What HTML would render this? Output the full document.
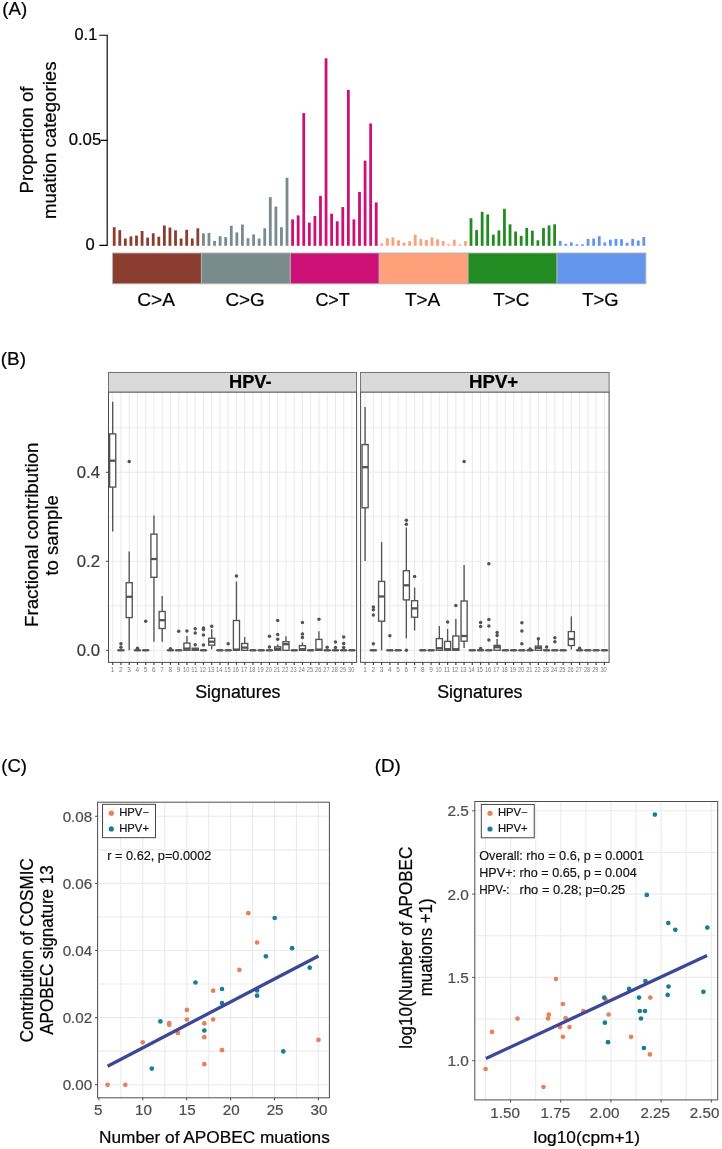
<!DOCTYPE html>
<html><head><meta charset="utf-8"><title>Figure</title>
<style>
html,body{margin:0;padding:0;background:#fff;}
svg{display:block;will-change:transform;filter:blur(0.3px);font-family:'Liberation Sans', sans-serif;}
</style></head>
<body>
<svg width="722" height="1149" viewBox="0 0 722 1149" font-family="'Liberation Sans', sans-serif">
<rect width="722" height="1149" fill="#fff"/>
<text x="2.30" y="15.20" font-size="18.5" text-anchor="start" fill="#000" textLength="24.9" lengthAdjust="spacingAndGlyphs" stroke="#000" stroke-width="0.22">(A)</text>
<rect x="112.80" y="227.20" width="2.8" height="18.60" fill="#8B3E2F"/>
<rect x="118.38" y="230.10" width="2.8" height="15.70" fill="#8B3E2F"/>
<rect x="123.95" y="238.50" width="2.8" height="7.30" fill="#8B3E2F"/>
<rect x="129.53" y="236.40" width="2.8" height="9.40" fill="#8B3E2F"/>
<rect x="135.10" y="235.60" width="2.8" height="10.20" fill="#8B3E2F"/>
<rect x="140.68" y="231.00" width="2.8" height="14.80" fill="#8B3E2F"/>
<rect x="146.25" y="237.60" width="2.8" height="8.20" fill="#8B3E2F"/>
<rect x="151.82" y="233.30" width="2.8" height="12.50" fill="#8B3E2F"/>
<rect x="157.40" y="236.70" width="2.8" height="9.10" fill="#8B3E2F"/>
<rect x="162.97" y="225.50" width="2.8" height="20.30" fill="#8B3E2F"/>
<rect x="168.55" y="227.50" width="2.8" height="18.30" fill="#8B3E2F"/>
<rect x="174.12" y="230.30" width="2.8" height="15.50" fill="#8B3E2F"/>
<rect x="179.70" y="238.50" width="2.8" height="7.30" fill="#8B3E2F"/>
<rect x="185.28" y="229.80" width="2.8" height="16.00" fill="#8B3E2F"/>
<rect x="190.85" y="238.50" width="2.8" height="7.30" fill="#8B3E2F"/>
<rect x="196.43" y="228.30" width="2.8" height="17.50" fill="#8B3E2F"/>
<rect x="202.00" y="233.30" width="2.8" height="12.50" fill="#7A8B8B"/>
<rect x="207.57" y="232.90" width="2.8" height="12.90" fill="#7A8B8B"/>
<rect x="213.15" y="240.90" width="2.8" height="4.90" fill="#7A8B8B"/>
<rect x="218.72" y="236.20" width="2.8" height="9.60" fill="#7A8B8B"/>
<rect x="224.30" y="237.10" width="2.8" height="8.70" fill="#7A8B8B"/>
<rect x="229.88" y="225.70" width="2.8" height="20.10" fill="#7A8B8B"/>
<rect x="235.45" y="232.40" width="2.8" height="13.40" fill="#7A8B8B"/>
<rect x="241.02" y="224.50" width="2.8" height="21.30" fill="#7A8B8B"/>
<rect x="246.60" y="238.20" width="2.8" height="7.60" fill="#7A8B8B"/>
<rect x="252.18" y="234.40" width="2.8" height="11.40" fill="#7A8B8B"/>
<rect x="257.75" y="238.50" width="2.8" height="7.30" fill="#7A8B8B"/>
<rect x="263.32" y="228.30" width="2.8" height="17.50" fill="#7A8B8B"/>
<rect x="268.90" y="197.10" width="2.8" height="48.70" fill="#7A8B8B"/>
<rect x="274.48" y="206.60" width="2.8" height="39.20" fill="#7A8B8B"/>
<rect x="280.05" y="227.20" width="2.8" height="18.60" fill="#7A8B8B"/>
<rect x="285.62" y="177.70" width="2.8" height="68.10" fill="#7A8B8B"/>
<rect x="291.20" y="219.40" width="2.8" height="26.40" fill="#CD1076"/>
<rect x="296.77" y="215.40" width="2.8" height="30.40" fill="#CD1076"/>
<rect x="302.35" y="113.10" width="2.8" height="132.70" fill="#CD1076"/>
<rect x="307.93" y="222.60" width="2.8" height="23.20" fill="#CD1076"/>
<rect x="313.50" y="216.00" width="2.8" height="29.80" fill="#CD1076"/>
<rect x="319.07" y="195.80" width="2.8" height="50.00" fill="#CD1076"/>
<rect x="324.65" y="58.30" width="2.8" height="187.50" fill="#CD1076"/>
<rect x="330.23" y="213.70" width="2.8" height="32.10" fill="#CD1076"/>
<rect x="335.80" y="221.30" width="2.8" height="24.50" fill="#CD1076"/>
<rect x="341.38" y="207.05" width="2.8" height="38.75" fill="#CD1076"/>
<rect x="346.95" y="89.90" width="2.8" height="155.90" fill="#CD1076"/>
<rect x="352.52" y="219.40" width="2.8" height="26.40" fill="#CD1076"/>
<rect x="358.10" y="191.90" width="2.8" height="53.90" fill="#CD1076"/>
<rect x="363.68" y="160.60" width="2.8" height="85.20" fill="#CD1076"/>
<rect x="369.25" y="123.50" width="2.8" height="122.30" fill="#CD1076"/>
<rect x="374.83" y="202.40" width="2.8" height="43.40" fill="#CD1076"/>
<rect x="380.40" y="243.50" width="2.8" height="2.30" fill="#FFA07A"/>
<rect x="385.98" y="238.20" width="2.8" height="7.60" fill="#FFA07A"/>
<rect x="391.55" y="237.40" width="2.8" height="8.40" fill="#FFA07A"/>
<rect x="397.12" y="240.30" width="2.8" height="5.50" fill="#FFA07A"/>
<rect x="402.70" y="242.60" width="2.8" height="3.20" fill="#FFA07A"/>
<rect x="408.28" y="241.20" width="2.8" height="4.60" fill="#FFA07A"/>
<rect x="413.85" y="234.70" width="2.8" height="11.10" fill="#FFA07A"/>
<rect x="419.43" y="238.90" width="2.8" height="6.90" fill="#FFA07A"/>
<rect x="425.00" y="240.00" width="2.8" height="5.80" fill="#FFA07A"/>
<rect x="430.58" y="237.40" width="2.8" height="8.40" fill="#FFA07A"/>
<rect x="436.15" y="239.30" width="2.8" height="6.50" fill="#FFA07A"/>
<rect x="441.73" y="241.10" width="2.8" height="4.70" fill="#FFA07A"/>
<rect x="447.30" y="244.30" width="2.8" height="1.50" fill="#FFA07A"/>
<rect x="452.88" y="239.70" width="2.8" height="6.10" fill="#FFA07A"/>
<rect x="458.45" y="244.60" width="2.8" height="1.20" fill="#FFA07A"/>
<rect x="464.03" y="241.10" width="2.8" height="4.70" fill="#FFA07A"/>
<rect x="469.60" y="218.20" width="2.8" height="27.60" fill="#228B22"/>
<rect x="475.18" y="230.10" width="2.8" height="15.70" fill="#228B22"/>
<rect x="480.75" y="211.80" width="2.8" height="34.00" fill="#228B22"/>
<rect x="486.33" y="214.40" width="2.8" height="31.40" fill="#228B22"/>
<rect x="491.90" y="234.70" width="2.8" height="11.10" fill="#228B22"/>
<rect x="497.48" y="230.40" width="2.8" height="15.40" fill="#228B22"/>
<rect x="503.05" y="208.80" width="2.8" height="37.00" fill="#228B22"/>
<rect x="508.62" y="224.30" width="2.8" height="21.50" fill="#228B22"/>
<rect x="514.20" y="231.50" width="2.8" height="14.30" fill="#228B22"/>
<rect x="519.77" y="235.80" width="2.8" height="10.00" fill="#228B22"/>
<rect x="525.35" y="227.80" width="2.8" height="18.00" fill="#228B22"/>
<rect x="530.92" y="230.70" width="2.8" height="15.10" fill="#228B22"/>
<rect x="536.50" y="240.30" width="2.8" height="5.50" fill="#228B22"/>
<rect x="542.08" y="228.10" width="2.8" height="17.70" fill="#228B22"/>
<rect x="547.65" y="225.40" width="2.8" height="20.40" fill="#228B22"/>
<rect x="553.23" y="224.30" width="2.8" height="21.50" fill="#228B22"/>
<rect x="558.80" y="240.90" width="2.8" height="4.90" fill="#6495ED"/>
<rect x="564.38" y="244.00" width="2.8" height="1.80" fill="#6495ED"/>
<rect x="569.95" y="242.40" width="2.8" height="3.40" fill="#6495ED"/>
<rect x="575.52" y="244.30" width="2.8" height="1.50" fill="#6495ED"/>
<rect x="581.10" y="244.30" width="2.8" height="1.50" fill="#6495ED"/>
<rect x="586.67" y="238.90" width="2.8" height="6.90" fill="#6495ED"/>
<rect x="592.25" y="238.50" width="2.8" height="7.30" fill="#6495ED"/>
<rect x="597.83" y="236.20" width="2.8" height="9.60" fill="#6495ED"/>
<rect x="603.40" y="242.40" width="2.8" height="3.40" fill="#6495ED"/>
<rect x="608.98" y="239.70" width="2.8" height="6.10" fill="#6495ED"/>
<rect x="614.55" y="238.90" width="2.8" height="6.90" fill="#6495ED"/>
<rect x="620.12" y="239.20" width="2.8" height="6.60" fill="#6495ED"/>
<rect x="625.70" y="242.80" width="2.8" height="3.00" fill="#6495ED"/>
<rect x="631.27" y="238.90" width="2.8" height="6.90" fill="#6495ED"/>
<rect x="636.85" y="240.50" width="2.8" height="5.30" fill="#6495ED"/>
<rect x="642.42" y="237.00" width="2.8" height="8.80" fill="#6495ED"/>
<path d="M99.3 35.2H107.2V245.4H99.3M107.2 140.4H100.8" fill="none" stroke="#000" stroke-width="1.15"/>
<text x="97.20" y="39.70" font-size="16.3" text-anchor="end" fill="#000" stroke="#000" stroke-width="0.22">0.1</text>
<text x="101.30" y="144.90" font-size="16.8" text-anchor="end" fill="#000" stroke="#000" stroke-width="0.22">0.05</text>
<text x="94.80" y="250.40" font-size="16.5" text-anchor="end" fill="#000" stroke="#000" stroke-width="0.22">0</text>
<text x="32.90" y="140.00" font-size="18.7" text-anchor="middle" fill="#000" textLength="107.0" lengthAdjust="spacingAndGlyphs" transform="rotate(-90 32.90 140.00)" stroke="#000" stroke-width="0.22">Proportion of</text>
<text x="55.60" y="140.30" font-size="18.7" text-anchor="middle" fill="#000" textLength="157.6" lengthAdjust="spacingAndGlyphs" transform="rotate(-90 55.60 140.30)" stroke="#000" stroke-width="0.22">muation categories</text>
<rect x="112.50" y="253" width="88.90" height="30.8" fill="#8B3E2F" stroke="#b4b4b4" stroke-width="0.9"/>
<rect x="201.40" y="253" width="88.90" height="30.8" fill="#7A8B8B" stroke="#b4b4b4" stroke-width="0.9"/>
<rect x="290.30" y="253" width="88.90" height="30.8" fill="#CD1076" stroke="#b4b4b4" stroke-width="0.9"/>
<rect x="379.20" y="253" width="88.90" height="30.8" fill="#FFA07A" stroke="#b4b4b4" stroke-width="0.9"/>
<rect x="468.10" y="253" width="88.90" height="30.8" fill="#228B22" stroke="#b4b4b4" stroke-width="0.9"/>
<rect x="557.00" y="253" width="88.90" height="30.8" fill="#6495ED" stroke="#b4b4b4" stroke-width="0.9"/>
<text x="137.20" y="305.60" font-size="18.5" text-anchor="start" fill="#000" textLength="37.7" lengthAdjust="spacingAndGlyphs" stroke="#000" stroke-width="0.22">C&gt;A</text>
<text x="225.50" y="305.60" font-size="18.5" text-anchor="start" fill="#000" textLength="39.2" lengthAdjust="spacingAndGlyphs" stroke="#000" stroke-width="0.22">C&gt;G</text>
<text x="315.40" y="305.60" font-size="18.5" text-anchor="start" fill="#000" textLength="34.3" lengthAdjust="spacingAndGlyphs" stroke="#000" stroke-width="0.22">C&gt;T</text>
<text x="404.90" y="305.60" font-size="18.5" text-anchor="start" fill="#000" textLength="35.4" lengthAdjust="spacingAndGlyphs" stroke="#000" stroke-width="0.22">T&gt;A</text>
<text x="493.20" y="305.60" font-size="18.5" text-anchor="start" fill="#000" textLength="36.1" lengthAdjust="spacingAndGlyphs" stroke="#000" stroke-width="0.22">T&gt;C</text>
<text x="582.20" y="305.60" font-size="18.5" text-anchor="start" fill="#000" textLength="36.3" lengthAdjust="spacingAndGlyphs" stroke="#000" stroke-width="0.22">T&gt;G</text>
<text x="0.80" y="365.20" font-size="18.5" text-anchor="start" fill="#000" textLength="25.2" lengthAdjust="spacingAndGlyphs" stroke="#000" stroke-width="0.22">(B)</text>
<rect x="108.5" y="392.0" width="248.10" height="270.40" fill="#fff"/>
<line x1="108.5" x2="356.6" y1="650.30" y2="650.30" stroke="#ebebeb" stroke-width="1.1"/>
<line x1="108.5" x2="356.6" y1="605.80" y2="605.80" stroke="#ebebeb" stroke-width="0.9"/>
<line x1="108.5" x2="356.6" y1="561.30" y2="561.30" stroke="#ebebeb" stroke-width="1.1"/>
<line x1="108.5" x2="356.6" y1="516.80" y2="516.80" stroke="#ebebeb" stroke-width="0.9"/>
<line x1="108.5" x2="356.6" y1="472.30" y2="472.30" stroke="#ebebeb" stroke-width="1.1"/>
<line x1="108.5" x2="356.6" y1="427.80" y2="427.80" stroke="#ebebeb" stroke-width="0.9"/>
<line x1="112.70" x2="112.70" y1="392.0" y2="662.4" stroke="#ebebeb" stroke-width="1.1"/>
<line x1="120.95" x2="120.95" y1="392.0" y2="662.4" stroke="#ebebeb" stroke-width="1.1"/>
<line x1="129.20" x2="129.20" y1="392.0" y2="662.4" stroke="#ebebeb" stroke-width="1.1"/>
<line x1="137.45" x2="137.45" y1="392.0" y2="662.4" stroke="#ebebeb" stroke-width="1.1"/>
<line x1="145.70" x2="145.70" y1="392.0" y2="662.4" stroke="#ebebeb" stroke-width="1.1"/>
<line x1="153.95" x2="153.95" y1="392.0" y2="662.4" stroke="#ebebeb" stroke-width="1.1"/>
<line x1="162.20" x2="162.20" y1="392.0" y2="662.4" stroke="#ebebeb" stroke-width="1.1"/>
<line x1="170.45" x2="170.45" y1="392.0" y2="662.4" stroke="#ebebeb" stroke-width="1.1"/>
<line x1="178.70" x2="178.70" y1="392.0" y2="662.4" stroke="#ebebeb" stroke-width="1.1"/>
<line x1="186.95" x2="186.95" y1="392.0" y2="662.4" stroke="#ebebeb" stroke-width="1.1"/>
<line x1="195.20" x2="195.20" y1="392.0" y2="662.4" stroke="#ebebeb" stroke-width="1.1"/>
<line x1="203.45" x2="203.45" y1="392.0" y2="662.4" stroke="#ebebeb" stroke-width="1.1"/>
<line x1="211.70" x2="211.70" y1="392.0" y2="662.4" stroke="#ebebeb" stroke-width="1.1"/>
<line x1="219.95" x2="219.95" y1="392.0" y2="662.4" stroke="#ebebeb" stroke-width="1.1"/>
<line x1="228.20" x2="228.20" y1="392.0" y2="662.4" stroke="#ebebeb" stroke-width="1.1"/>
<line x1="236.45" x2="236.45" y1="392.0" y2="662.4" stroke="#ebebeb" stroke-width="1.1"/>
<line x1="244.70" x2="244.70" y1="392.0" y2="662.4" stroke="#ebebeb" stroke-width="1.1"/>
<line x1="252.95" x2="252.95" y1="392.0" y2="662.4" stroke="#ebebeb" stroke-width="1.1"/>
<line x1="261.20" x2="261.20" y1="392.0" y2="662.4" stroke="#ebebeb" stroke-width="1.1"/>
<line x1="269.45" x2="269.45" y1="392.0" y2="662.4" stroke="#ebebeb" stroke-width="1.1"/>
<line x1="277.70" x2="277.70" y1="392.0" y2="662.4" stroke="#ebebeb" stroke-width="1.1"/>
<line x1="285.95" x2="285.95" y1="392.0" y2="662.4" stroke="#ebebeb" stroke-width="1.1"/>
<line x1="294.20" x2="294.20" y1="392.0" y2="662.4" stroke="#ebebeb" stroke-width="1.1"/>
<line x1="302.45" x2="302.45" y1="392.0" y2="662.4" stroke="#ebebeb" stroke-width="1.1"/>
<line x1="310.70" x2="310.70" y1="392.0" y2="662.4" stroke="#ebebeb" stroke-width="1.1"/>
<line x1="318.95" x2="318.95" y1="392.0" y2="662.4" stroke="#ebebeb" stroke-width="1.1"/>
<line x1="327.20" x2="327.20" y1="392.0" y2="662.4" stroke="#ebebeb" stroke-width="1.1"/>
<line x1="335.45" x2="335.45" y1="392.0" y2="662.4" stroke="#ebebeb" stroke-width="1.1"/>
<line x1="343.70" x2="343.70" y1="392.0" y2="662.4" stroke="#ebebeb" stroke-width="1.1"/>
<line x1="351.95" x2="351.95" y1="392.0" y2="662.4" stroke="#ebebeb" stroke-width="1.1"/>
<line x1="112.70" x2="112.70" y1="401.70" y2="433.90" stroke="#535353" stroke-width="1.35"/>
<line x1="112.70" x2="112.70" y1="487.10" y2="531.50" stroke="#535353" stroke-width="1.35"/>
<rect x="109.65" y="433.90" width="6.10" height="53.20" fill="#fff" stroke="#535353" stroke-width="1.35"/>
<line x1="109.65" x2="115.75" y1="460.70" y2="460.70" stroke="#535353" stroke-width="2.3"/>
<rect x="117.90" y="650.30" width="6.10" height="0.01" fill="#fff" stroke="#535353" stroke-width="1.35"/>
<line x1="117.90" x2="124.00" y1="650.30" y2="650.30" stroke="#535353" stroke-width="2.3"/>
<circle cx="120.95" cy="643.70" r="1.75" fill="#535353"/>
<circle cx="120.95" cy="647.30" r="1.75" fill="#535353"/>
<line x1="129.20" x2="129.20" y1="551.50" y2="582.70" stroke="#535353" stroke-width="1.35"/>
<line x1="129.20" x2="129.20" y1="617.60" y2="650.30" stroke="#535353" stroke-width="1.35"/>
<rect x="126.15" y="582.70" width="6.10" height="34.90" fill="#fff" stroke="#535353" stroke-width="1.35"/>
<line x1="126.15" x2="132.25" y1="596.80" y2="596.80" stroke="#535353" stroke-width="2.3"/>
<circle cx="129.20" cy="461.50" r="1.75" fill="#535353"/>
<rect x="134.40" y="650.30" width="6.10" height="0.01" fill="#fff" stroke="#535353" stroke-width="1.35"/>
<line x1="134.40" x2="140.50" y1="650.30" y2="650.30" stroke="#535353" stroke-width="2.3"/>
<circle cx="137.45" cy="648.30" r="1.75" fill="#535353"/>
<rect x="142.65" y="650.30" width="6.10" height="0.01" fill="#fff" stroke="#535353" stroke-width="1.35"/>
<line x1="142.65" x2="148.75" y1="650.30" y2="650.30" stroke="#535353" stroke-width="2.3"/>
<circle cx="145.70" cy="621.20" r="1.75" fill="#535353"/>
<line x1="153.95" x2="153.95" y1="515.60" y2="534.10" stroke="#535353" stroke-width="1.35"/>
<line x1="153.95" x2="153.95" y1="577.30" y2="641.70" stroke="#535353" stroke-width="1.35"/>
<rect x="150.90" y="534.10" width="6.10" height="43.20" fill="#fff" stroke="#535353" stroke-width="1.35"/>
<line x1="150.90" x2="157.00" y1="559.00" y2="559.00" stroke="#535353" stroke-width="2.3"/>
<line x1="162.20" x2="162.20" y1="596.10" y2="611.50" stroke="#535353" stroke-width="1.35"/>
<line x1="162.20" x2="162.20" y1="628.50" y2="641.70" stroke="#535353" stroke-width="1.35"/>
<rect x="159.15" y="611.50" width="6.10" height="17.00" fill="#fff" stroke="#535353" stroke-width="1.35"/>
<line x1="159.15" x2="165.25" y1="620.20" y2="620.20" stroke="#535353" stroke-width="2.3"/>
<rect x="167.40" y="650.30" width="6.10" height="0.01" fill="#fff" stroke="#535353" stroke-width="1.35"/>
<line x1="167.40" x2="173.50" y1="650.30" y2="650.30" stroke="#535353" stroke-width="2.3"/>
<circle cx="170.45" cy="648.80" r="1.75" fill="#535353"/>
<rect x="175.65" y="650.30" width="6.10" height="0.01" fill="#fff" stroke="#535353" stroke-width="1.35"/>
<line x1="175.65" x2="181.75" y1="650.30" y2="650.30" stroke="#535353" stroke-width="2.3"/>
<circle cx="178.70" cy="631.30" r="1.75" fill="#535353"/>
<line x1="186.95" x2="186.95" y1="635.90" y2="643.10" stroke="#535353" stroke-width="1.35"/>
<rect x="183.90" y="643.10" width="6.10" height="7.20" fill="#fff" stroke="#535353" stroke-width="1.35"/>
<line x1="183.90" x2="190.00" y1="648.60" y2="648.60" stroke="#535353" stroke-width="2.3"/>
<circle cx="186.95" cy="631.00" r="1.75" fill="#535353"/>
<rect x="192.15" y="648.20" width="6.10" height="2.10" fill="#fff" stroke="#535353" stroke-width="1.35"/>
<line x1="192.15" x2="198.25" y1="649.60" y2="649.60" stroke="#535353" stroke-width="2.3"/>
<circle cx="195.20" cy="628.80" r="1.75" fill="#535353"/>
<circle cx="195.20" cy="633.10" r="1.75" fill="#535353"/>
<circle cx="195.20" cy="644.80" r="1.75" fill="#535353"/>
<rect x="200.40" y="650.30" width="6.10" height="0.01" fill="#fff" stroke="#535353" stroke-width="1.35"/>
<line x1="200.40" x2="206.50" y1="650.30" y2="650.30" stroke="#535353" stroke-width="2.3"/>
<circle cx="203.45" cy="628.00" r="1.75" fill="#535353"/>
<circle cx="203.45" cy="629.40" r="1.75" fill="#535353"/>
<circle cx="203.45" cy="635.10" r="1.75" fill="#535353"/>
<circle cx="203.45" cy="644.90" r="1.75" fill="#535353"/>
<line x1="211.70" x2="211.70" y1="629.30" y2="638.30" stroke="#535353" stroke-width="1.35"/>
<line x1="211.70" x2="211.70" y1="645.20" y2="649.30" stroke="#535353" stroke-width="1.35"/>
<rect x="208.65" y="638.30" width="6.10" height="6.90" fill="#fff" stroke="#535353" stroke-width="1.35"/>
<line x1="208.65" x2="214.75" y1="641.70" y2="641.70" stroke="#535353" stroke-width="2.3"/>
<circle cx="211.70" cy="626.20" r="1.75" fill="#535353"/>
<rect x="216.90" y="650.30" width="6.10" height="0.01" fill="#fff" stroke="#535353" stroke-width="1.35"/>
<line x1="216.90" x2="223.00" y1="650.30" y2="650.30" stroke="#535353" stroke-width="2.3"/>
<rect x="225.15" y="650.30" width="6.10" height="0.01" fill="#fff" stroke="#535353" stroke-width="1.35"/>
<line x1="225.15" x2="231.25" y1="650.30" y2="650.30" stroke="#535353" stroke-width="2.3"/>
<circle cx="228.20" cy="643.80" r="1.75" fill="#535353"/>
<line x1="236.45" x2="236.45" y1="581.50" y2="620.50" stroke="#535353" stroke-width="1.35"/>
<rect x="233.40" y="620.50" width="6.10" height="29.80" fill="#fff" stroke="#535353" stroke-width="1.35"/>
<line x1="233.40" x2="239.50" y1="649.60" y2="649.60" stroke="#535353" stroke-width="2.3"/>
<circle cx="236.45" cy="576.10" r="1.75" fill="#535353"/>
<line x1="244.70" x2="244.70" y1="636.90" y2="643.50" stroke="#535353" stroke-width="1.35"/>
<rect x="241.65" y="643.50" width="6.10" height="6.80" fill="#fff" stroke="#535353" stroke-width="1.35"/>
<line x1="241.65" x2="247.75" y1="647.60" y2="647.60" stroke="#535353" stroke-width="2.3"/>
<rect x="249.90" y="650.30" width="6.10" height="0.01" fill="#fff" stroke="#535353" stroke-width="1.35"/>
<line x1="249.90" x2="256.00" y1="650.30" y2="650.30" stroke="#535353" stroke-width="2.3"/>
<rect x="258.15" y="650.30" width="6.10" height="0.01" fill="#fff" stroke="#535353" stroke-width="1.35"/>
<line x1="258.15" x2="264.25" y1="650.30" y2="650.30" stroke="#535353" stroke-width="2.3"/>
<rect x="266.40" y="650.30" width="6.10" height="0.01" fill="#fff" stroke="#535353" stroke-width="1.35"/>
<line x1="266.40" x2="272.50" y1="650.30" y2="650.30" stroke="#535353" stroke-width="2.3"/>
<circle cx="269.45" cy="636.20" r="1.75" fill="#535353"/>
<circle cx="269.45" cy="646.90" r="1.75" fill="#535353"/>
<line x1="277.70" x2="277.70" y1="644.50" y2="646.80" stroke="#535353" stroke-width="1.35"/>
<rect x="274.65" y="646.80" width="6.10" height="3.50" fill="#fff" stroke="#535353" stroke-width="1.35"/>
<line x1="274.65" x2="280.75" y1="648.90" y2="648.90" stroke="#535353" stroke-width="2.3"/>
<circle cx="277.70" cy="620.50" r="1.75" fill="#535353"/>
<circle cx="277.70" cy="634.50" r="1.75" fill="#535353"/>
<circle cx="277.70" cy="639.20" r="1.75" fill="#535353"/>
<line x1="285.95" x2="285.95" y1="636.20" y2="641.70" stroke="#535353" stroke-width="1.35"/>
<rect x="282.90" y="641.70" width="6.10" height="8.60" fill="#fff" stroke="#535353" stroke-width="1.35"/>
<line x1="282.90" x2="289.00" y1="644.20" y2="644.20" stroke="#535353" stroke-width="2.3"/>
<rect x="291.15" y="650.30" width="6.10" height="0.01" fill="#fff" stroke="#535353" stroke-width="1.35"/>
<line x1="291.15" x2="297.25" y1="650.30" y2="650.30" stroke="#535353" stroke-width="2.3"/>
<line x1="302.45" x2="302.45" y1="642.40" y2="645.60" stroke="#535353" stroke-width="1.35"/>
<rect x="299.40" y="645.60" width="6.10" height="4.70" fill="#fff" stroke="#535353" stroke-width="1.35"/>
<line x1="299.40" x2="305.50" y1="649.20" y2="649.20" stroke="#535353" stroke-width="2.3"/>
<circle cx="302.45" cy="622.60" r="1.75" fill="#535353"/>
<circle cx="302.45" cy="634.10" r="1.75" fill="#535353"/>
<circle cx="302.45" cy="637.60" r="1.75" fill="#535353"/>
<rect x="307.65" y="650.30" width="6.10" height="0.01" fill="#fff" stroke="#535353" stroke-width="1.35"/>
<line x1="307.65" x2="313.75" y1="650.30" y2="650.30" stroke="#535353" stroke-width="2.3"/>
<line x1="318.95" x2="318.95" y1="631.30" y2="639.40" stroke="#535353" stroke-width="1.35"/>
<rect x="315.90" y="639.40" width="6.10" height="10.90" fill="#fff" stroke="#535353" stroke-width="1.35"/>
<line x1="315.90" x2="322.00" y1="649.60" y2="649.60" stroke="#535353" stroke-width="2.3"/>
<circle cx="318.95" cy="619.30" r="1.75" fill="#535353"/>
<rect x="324.15" y="650.30" width="6.10" height="0.01" fill="#fff" stroke="#535353" stroke-width="1.35"/>
<line x1="324.15" x2="330.25" y1="650.30" y2="650.30" stroke="#535353" stroke-width="2.3"/>
<circle cx="327.20" cy="647.30" r="1.75" fill="#535353"/>
<rect x="332.40" y="650.30" width="6.10" height="0.01" fill="#fff" stroke="#535353" stroke-width="1.35"/>
<line x1="332.40" x2="338.50" y1="650.30" y2="650.30" stroke="#535353" stroke-width="2.3"/>
<circle cx="335.45" cy="642.00" r="1.75" fill="#535353"/>
<circle cx="335.45" cy="647.50" r="1.75" fill="#535353"/>
<rect x="340.65" y="650.30" width="6.10" height="0.01" fill="#fff" stroke="#535353" stroke-width="1.35"/>
<line x1="340.65" x2="346.75" y1="650.30" y2="650.30" stroke="#535353" stroke-width="2.3"/>
<circle cx="343.70" cy="637.10" r="1.75" fill="#535353"/>
<circle cx="343.70" cy="643.40" r="1.75" fill="#535353"/>
<circle cx="343.70" cy="647.50" r="1.75" fill="#535353"/>
<rect x="348.90" y="650.30" width="6.10" height="0.01" fill="#fff" stroke="#535353" stroke-width="1.35"/>
<line x1="348.90" x2="355.00" y1="650.30" y2="650.30" stroke="#535353" stroke-width="2.3"/>
<rect x="108.5" y="392.0" width="248.10" height="270.40" fill="none" stroke="#4d4d4d" stroke-width="1"/>
<rect x="108.5" y="372.4" width="248.10" height="19.6" fill="#dadada" stroke="#5e5e5e" stroke-width="0.85"/>
<text x="229.00" y="388.30" font-size="18" text-anchor="start" fill="#000" font-weight="bold" textLength="42.6" lengthAdjust="spacingAndGlyphs" stroke="#000" stroke-width="0.22">HPV-</text>
<line x1="112.70" x2="112.70" y1="662.4" y2="664.9" stroke="#444" stroke-width="1.2"/>
<text x="112.60" y="671.80" font-size="6.4" text-anchor="middle" fill="#7a7a7a" >1</text>
<line x1="120.95" x2="120.95" y1="662.4" y2="664.9" stroke="#444" stroke-width="1.2"/>
<text x="120.85" y="671.80" font-size="6.4" text-anchor="middle" fill="#7a7a7a" >2</text>
<line x1="129.20" x2="129.20" y1="662.4" y2="664.9" stroke="#444" stroke-width="1.2"/>
<text x="129.10" y="671.80" font-size="6.4" text-anchor="middle" fill="#7a7a7a" >3</text>
<line x1="137.45" x2="137.45" y1="662.4" y2="664.9" stroke="#444" stroke-width="1.2"/>
<text x="137.35" y="671.80" font-size="6.4" text-anchor="middle" fill="#7a7a7a" >4</text>
<line x1="145.70" x2="145.70" y1="662.4" y2="664.9" stroke="#444" stroke-width="1.2"/>
<text x="145.60" y="671.80" font-size="6.4" text-anchor="middle" fill="#7a7a7a" >5</text>
<line x1="153.95" x2="153.95" y1="662.4" y2="664.9" stroke="#444" stroke-width="1.2"/>
<text x="153.85" y="671.80" font-size="6.4" text-anchor="middle" fill="#7a7a7a" >6</text>
<line x1="162.20" x2="162.20" y1="662.4" y2="664.9" stroke="#444" stroke-width="1.2"/>
<text x="162.10" y="671.80" font-size="6.4" text-anchor="middle" fill="#7a7a7a" >7</text>
<line x1="170.45" x2="170.45" y1="662.4" y2="664.9" stroke="#444" stroke-width="1.2"/>
<text x="170.35" y="671.80" font-size="6.4" text-anchor="middle" fill="#7a7a7a" >8</text>
<line x1="178.70" x2="178.70" y1="662.4" y2="664.9" stroke="#444" stroke-width="1.2"/>
<text x="178.60" y="671.80" font-size="6.4" text-anchor="middle" fill="#7a7a7a" >9</text>
<line x1="186.95" x2="186.95" y1="662.4" y2="664.9" stroke="#444" stroke-width="1.2"/>
<text x="186.15" y="671.80" font-size="6.4" text-anchor="middle" fill="#7a7a7a" textLength="6.3" lengthAdjust="spacingAndGlyphs" >10</text>
<line x1="195.20" x2="195.20" y1="662.4" y2="664.9" stroke="#444" stroke-width="1.2"/>
<text x="194.40" y="671.80" font-size="6.4" text-anchor="middle" fill="#7a7a7a" textLength="6.3" lengthAdjust="spacingAndGlyphs" >11</text>
<line x1="203.45" x2="203.45" y1="662.4" y2="664.9" stroke="#444" stroke-width="1.2"/>
<text x="202.65" y="671.80" font-size="6.4" text-anchor="middle" fill="#7a7a7a" textLength="6.3" lengthAdjust="spacingAndGlyphs" >12</text>
<line x1="211.70" x2="211.70" y1="662.4" y2="664.9" stroke="#444" stroke-width="1.2"/>
<text x="210.90" y="671.80" font-size="6.4" text-anchor="middle" fill="#7a7a7a" textLength="6.3" lengthAdjust="spacingAndGlyphs" >13</text>
<line x1="219.95" x2="219.95" y1="662.4" y2="664.9" stroke="#444" stroke-width="1.2"/>
<text x="219.15" y="671.80" font-size="6.4" text-anchor="middle" fill="#7a7a7a" textLength="6.3" lengthAdjust="spacingAndGlyphs" >14</text>
<line x1="228.20" x2="228.20" y1="662.4" y2="664.9" stroke="#444" stroke-width="1.2"/>
<text x="227.40" y="671.80" font-size="6.4" text-anchor="middle" fill="#7a7a7a" textLength="6.3" lengthAdjust="spacingAndGlyphs" >15</text>
<line x1="236.45" x2="236.45" y1="662.4" y2="664.9" stroke="#444" stroke-width="1.2"/>
<text x="235.65" y="671.80" font-size="6.4" text-anchor="middle" fill="#7a7a7a" textLength="6.3" lengthAdjust="spacingAndGlyphs" >16</text>
<line x1="244.70" x2="244.70" y1="662.4" y2="664.9" stroke="#444" stroke-width="1.2"/>
<text x="243.90" y="671.80" font-size="6.4" text-anchor="middle" fill="#7a7a7a" textLength="6.3" lengthAdjust="spacingAndGlyphs" >17</text>
<line x1="252.95" x2="252.95" y1="662.4" y2="664.9" stroke="#444" stroke-width="1.2"/>
<text x="252.15" y="671.80" font-size="6.4" text-anchor="middle" fill="#7a7a7a" textLength="6.3" lengthAdjust="spacingAndGlyphs" >18</text>
<line x1="261.20" x2="261.20" y1="662.4" y2="664.9" stroke="#444" stroke-width="1.2"/>
<text x="260.40" y="671.80" font-size="6.4" text-anchor="middle" fill="#7a7a7a" textLength="6.3" lengthAdjust="spacingAndGlyphs" >19</text>
<line x1="269.45" x2="269.45" y1="662.4" y2="664.9" stroke="#444" stroke-width="1.2"/>
<text x="268.65" y="671.80" font-size="6.4" text-anchor="middle" fill="#7a7a7a" textLength="6.3" lengthAdjust="spacingAndGlyphs" >20</text>
<line x1="277.70" x2="277.70" y1="662.4" y2="664.9" stroke="#444" stroke-width="1.2"/>
<text x="276.90" y="671.80" font-size="6.4" text-anchor="middle" fill="#7a7a7a" textLength="6.3" lengthAdjust="spacingAndGlyphs" >21</text>
<line x1="285.95" x2="285.95" y1="662.4" y2="664.9" stroke="#444" stroke-width="1.2"/>
<text x="285.15" y="671.80" font-size="6.4" text-anchor="middle" fill="#7a7a7a" textLength="6.3" lengthAdjust="spacingAndGlyphs" >22</text>
<line x1="294.20" x2="294.20" y1="662.4" y2="664.9" stroke="#444" stroke-width="1.2"/>
<text x="293.40" y="671.80" font-size="6.4" text-anchor="middle" fill="#7a7a7a" textLength="6.3" lengthAdjust="spacingAndGlyphs" >23</text>
<line x1="302.45" x2="302.45" y1="662.4" y2="664.9" stroke="#444" stroke-width="1.2"/>
<text x="301.65" y="671.80" font-size="6.4" text-anchor="middle" fill="#7a7a7a" textLength="6.3" lengthAdjust="spacingAndGlyphs" >24</text>
<line x1="310.70" x2="310.70" y1="662.4" y2="664.9" stroke="#444" stroke-width="1.2"/>
<text x="309.90" y="671.80" font-size="6.4" text-anchor="middle" fill="#7a7a7a" textLength="6.3" lengthAdjust="spacingAndGlyphs" >25</text>
<line x1="318.95" x2="318.95" y1="662.4" y2="664.9" stroke="#444" stroke-width="1.2"/>
<text x="318.15" y="671.80" font-size="6.4" text-anchor="middle" fill="#7a7a7a" textLength="6.3" lengthAdjust="spacingAndGlyphs" >26</text>
<line x1="327.20" x2="327.20" y1="662.4" y2="664.9" stroke="#444" stroke-width="1.2"/>
<text x="326.40" y="671.80" font-size="6.4" text-anchor="middle" fill="#7a7a7a" textLength="6.3" lengthAdjust="spacingAndGlyphs" >27</text>
<line x1="335.45" x2="335.45" y1="662.4" y2="664.9" stroke="#444" stroke-width="1.2"/>
<text x="334.65" y="671.80" font-size="6.4" text-anchor="middle" fill="#7a7a7a" textLength="6.3" lengthAdjust="spacingAndGlyphs" >28</text>
<line x1="343.70" x2="343.70" y1="662.4" y2="664.9" stroke="#444" stroke-width="1.2"/>
<text x="342.90" y="671.80" font-size="6.4" text-anchor="middle" fill="#7a7a7a" textLength="6.3" lengthAdjust="spacingAndGlyphs" >29</text>
<line x1="351.95" x2="351.95" y1="662.4" y2="664.9" stroke="#444" stroke-width="1.2"/>
<text x="351.15" y="671.80" font-size="6.4" text-anchor="middle" fill="#7a7a7a" textLength="6.3" lengthAdjust="spacingAndGlyphs" >30</text>
<rect x="360.6" y="392.0" width="248.50" height="270.40" fill="#fff"/>
<line x1="360.6" x2="609.1" y1="650.30" y2="650.30" stroke="#ebebeb" stroke-width="1.1"/>
<line x1="360.6" x2="609.1" y1="605.80" y2="605.80" stroke="#ebebeb" stroke-width="0.9"/>
<line x1="360.6" x2="609.1" y1="561.30" y2="561.30" stroke="#ebebeb" stroke-width="1.1"/>
<line x1="360.6" x2="609.1" y1="516.80" y2="516.80" stroke="#ebebeb" stroke-width="0.9"/>
<line x1="360.6" x2="609.1" y1="472.30" y2="472.30" stroke="#ebebeb" stroke-width="1.1"/>
<line x1="360.6" x2="609.1" y1="427.80" y2="427.80" stroke="#ebebeb" stroke-width="0.9"/>
<line x1="365.10" x2="365.10" y1="392.0" y2="662.4" stroke="#ebebeb" stroke-width="1.1"/>
<line x1="373.35" x2="373.35" y1="392.0" y2="662.4" stroke="#ebebeb" stroke-width="1.1"/>
<line x1="381.60" x2="381.60" y1="392.0" y2="662.4" stroke="#ebebeb" stroke-width="1.1"/>
<line x1="389.85" x2="389.85" y1="392.0" y2="662.4" stroke="#ebebeb" stroke-width="1.1"/>
<line x1="398.10" x2="398.10" y1="392.0" y2="662.4" stroke="#ebebeb" stroke-width="1.1"/>
<line x1="406.35" x2="406.35" y1="392.0" y2="662.4" stroke="#ebebeb" stroke-width="1.1"/>
<line x1="414.60" x2="414.60" y1="392.0" y2="662.4" stroke="#ebebeb" stroke-width="1.1"/>
<line x1="422.85" x2="422.85" y1="392.0" y2="662.4" stroke="#ebebeb" stroke-width="1.1"/>
<line x1="431.10" x2="431.10" y1="392.0" y2="662.4" stroke="#ebebeb" stroke-width="1.1"/>
<line x1="439.35" x2="439.35" y1="392.0" y2="662.4" stroke="#ebebeb" stroke-width="1.1"/>
<line x1="447.60" x2="447.60" y1="392.0" y2="662.4" stroke="#ebebeb" stroke-width="1.1"/>
<line x1="455.85" x2="455.85" y1="392.0" y2="662.4" stroke="#ebebeb" stroke-width="1.1"/>
<line x1="464.10" x2="464.10" y1="392.0" y2="662.4" stroke="#ebebeb" stroke-width="1.1"/>
<line x1="472.35" x2="472.35" y1="392.0" y2="662.4" stroke="#ebebeb" stroke-width="1.1"/>
<line x1="480.60" x2="480.60" y1="392.0" y2="662.4" stroke="#ebebeb" stroke-width="1.1"/>
<line x1="488.85" x2="488.85" y1="392.0" y2="662.4" stroke="#ebebeb" stroke-width="1.1"/>
<line x1="497.10" x2="497.10" y1="392.0" y2="662.4" stroke="#ebebeb" stroke-width="1.1"/>
<line x1="505.35" x2="505.35" y1="392.0" y2="662.4" stroke="#ebebeb" stroke-width="1.1"/>
<line x1="513.60" x2="513.60" y1="392.0" y2="662.4" stroke="#ebebeb" stroke-width="1.1"/>
<line x1="521.85" x2="521.85" y1="392.0" y2="662.4" stroke="#ebebeb" stroke-width="1.1"/>
<line x1="530.10" x2="530.10" y1="392.0" y2="662.4" stroke="#ebebeb" stroke-width="1.1"/>
<line x1="538.35" x2="538.35" y1="392.0" y2="662.4" stroke="#ebebeb" stroke-width="1.1"/>
<line x1="546.60" x2="546.60" y1="392.0" y2="662.4" stroke="#ebebeb" stroke-width="1.1"/>
<line x1="554.85" x2="554.85" y1="392.0" y2="662.4" stroke="#ebebeb" stroke-width="1.1"/>
<line x1="563.10" x2="563.10" y1="392.0" y2="662.4" stroke="#ebebeb" stroke-width="1.1"/>
<line x1="571.35" x2="571.35" y1="392.0" y2="662.4" stroke="#ebebeb" stroke-width="1.1"/>
<line x1="579.60" x2="579.60" y1="392.0" y2="662.4" stroke="#ebebeb" stroke-width="1.1"/>
<line x1="587.85" x2="587.85" y1="392.0" y2="662.4" stroke="#ebebeb" stroke-width="1.1"/>
<line x1="596.10" x2="596.10" y1="392.0" y2="662.4" stroke="#ebebeb" stroke-width="1.1"/>
<line x1="604.35" x2="604.35" y1="392.0" y2="662.4" stroke="#ebebeb" stroke-width="1.1"/>
<line x1="365.10" x2="365.10" y1="406.90" y2="444.60" stroke="#535353" stroke-width="1.35"/>
<line x1="365.10" x2="365.10" y1="507.80" y2="560.90" stroke="#535353" stroke-width="1.35"/>
<rect x="362.05" y="444.60" width="6.10" height="63.20" fill="#fff" stroke="#535353" stroke-width="1.35"/>
<line x1="362.05" x2="368.15" y1="467.20" y2="467.20" stroke="#535353" stroke-width="2.3"/>
<rect x="370.30" y="650.30" width="6.10" height="0.01" fill="#fff" stroke="#535353" stroke-width="1.35"/>
<line x1="370.30" x2="376.40" y1="650.30" y2="650.30" stroke="#535353" stroke-width="2.3"/>
<circle cx="373.35" cy="607.10" r="1.75" fill="#535353"/>
<circle cx="373.35" cy="609.80" r="1.75" fill="#535353"/>
<circle cx="373.35" cy="615.10" r="1.75" fill="#535353"/>
<circle cx="373.35" cy="643.70" r="1.75" fill="#535353"/>
<line x1="381.60" x2="381.60" y1="542.10" y2="581.40" stroke="#535353" stroke-width="1.35"/>
<line x1="381.60" x2="381.60" y1="621.20" y2="650.30" stroke="#535353" stroke-width="1.35"/>
<rect x="378.55" y="581.40" width="6.10" height="39.80" fill="#fff" stroke="#535353" stroke-width="1.35"/>
<line x1="378.55" x2="384.65" y1="596.50" y2="596.50" stroke="#535353" stroke-width="2.3"/>
<rect x="386.80" y="650.30" width="6.10" height="0.01" fill="#fff" stroke="#535353" stroke-width="1.35"/>
<line x1="386.80" x2="392.90" y1="650.30" y2="650.30" stroke="#535353" stroke-width="2.3"/>
<circle cx="389.85" cy="635.80" r="1.75" fill="#535353"/>
<rect x="395.05" y="650.30" width="6.10" height="0.01" fill="#fff" stroke="#535353" stroke-width="1.35"/>
<line x1="395.05" x2="401.15" y1="650.30" y2="650.30" stroke="#535353" stroke-width="2.3"/>
<line x1="406.35" x2="406.35" y1="527.50" y2="570.70" stroke="#535353" stroke-width="1.35"/>
<line x1="406.35" x2="406.35" y1="599.90" y2="638.40" stroke="#535353" stroke-width="1.35"/>
<rect x="403.30" y="570.70" width="6.10" height="29.20" fill="#fff" stroke="#535353" stroke-width="1.35"/>
<line x1="403.30" x2="409.40" y1="585.30" y2="585.30" stroke="#535353" stroke-width="2.3"/>
<circle cx="406.35" cy="520.30" r="1.75" fill="#535353"/>
<circle cx="406.35" cy="524.30" r="1.75" fill="#535353"/>
<circle cx="406.35" cy="650.30" r="1.75" fill="#535353"/>
<line x1="414.60" x2="414.60" y1="587.50" y2="600.70" stroke="#535353" stroke-width="1.35"/>
<line x1="414.60" x2="414.60" y1="617.20" y2="630.50" stroke="#535353" stroke-width="1.35"/>
<rect x="411.55" y="600.70" width="6.10" height="16.50" fill="#fff" stroke="#535353" stroke-width="1.35"/>
<line x1="411.55" x2="417.65" y1="608.40" y2="608.40" stroke="#535353" stroke-width="2.3"/>
<circle cx="414.60" cy="576.60" r="1.75" fill="#535353"/>
<rect x="419.80" y="650.30" width="6.10" height="0.01" fill="#fff" stroke="#535353" stroke-width="1.35"/>
<line x1="419.80" x2="425.90" y1="650.30" y2="650.30" stroke="#535353" stroke-width="2.3"/>
<rect x="428.05" y="650.30" width="6.10" height="0.01" fill="#fff" stroke="#535353" stroke-width="1.35"/>
<line x1="428.05" x2="434.15" y1="650.30" y2="650.30" stroke="#535353" stroke-width="2.3"/>
<line x1="439.35" x2="439.35" y1="626.00" y2="638.60" stroke="#535353" stroke-width="1.35"/>
<rect x="436.30" y="638.60" width="6.10" height="11.70" fill="#fff" stroke="#535353" stroke-width="1.35"/>
<line x1="436.30" x2="442.40" y1="648.20" y2="648.20" stroke="#535353" stroke-width="2.3"/>
<line x1="447.60" x2="447.60" y1="629.00" y2="641.40" stroke="#535353" stroke-width="1.35"/>
<rect x="444.55" y="641.40" width="6.10" height="8.90" fill="#fff" stroke="#535353" stroke-width="1.35"/>
<line x1="444.55" x2="450.65" y1="649.20" y2="649.20" stroke="#535353" stroke-width="2.3"/>
<circle cx="447.60" cy="622.00" r="1.75" fill="#535353"/>
<line x1="455.85" x2="455.85" y1="619.00" y2="636.00" stroke="#535353" stroke-width="1.35"/>
<rect x="452.80" y="636.00" width="6.10" height="14.30" fill="#fff" stroke="#535353" stroke-width="1.35"/>
<line x1="452.80" x2="458.90" y1="649.20" y2="649.20" stroke="#535353" stroke-width="2.3"/>
<circle cx="455.85" cy="605.40" r="1.75" fill="#535353"/>
<line x1="464.10" x2="464.10" y1="565.00" y2="601.00" stroke="#535353" stroke-width="1.35"/>
<line x1="464.10" x2="464.10" y1="641.20" y2="648.00" stroke="#535353" stroke-width="1.35"/>
<rect x="461.05" y="601.00" width="6.10" height="40.20" fill="#fff" stroke="#535353" stroke-width="1.35"/>
<line x1="461.05" x2="467.15" y1="636.00" y2="636.00" stroke="#535353" stroke-width="2.3"/>
<circle cx="464.10" cy="461.40" r="1.75" fill="#535353"/>
<rect x="469.30" y="650.30" width="6.10" height="0.01" fill="#fff" stroke="#535353" stroke-width="1.35"/>
<line x1="469.30" x2="475.40" y1="650.30" y2="650.30" stroke="#535353" stroke-width="2.3"/>
<rect x="477.55" y="650.30" width="6.10" height="0.01" fill="#fff" stroke="#535353" stroke-width="1.35"/>
<line x1="477.55" x2="483.65" y1="650.30" y2="650.30" stroke="#535353" stroke-width="2.3"/>
<circle cx="480.60" cy="622.40" r="1.75" fill="#535353"/>
<circle cx="480.60" cy="626.40" r="1.75" fill="#535353"/>
<circle cx="480.60" cy="648.60" r="1.75" fill="#535353"/>
<rect x="485.80" y="650.30" width="6.10" height="0.01" fill="#fff" stroke="#535353" stroke-width="1.35"/>
<line x1="485.80" x2="491.90" y1="650.30" y2="650.30" stroke="#535353" stroke-width="2.3"/>
<circle cx="488.85" cy="563.80" r="1.75" fill="#535353"/>
<circle cx="488.85" cy="619.40" r="1.75" fill="#535353"/>
<circle cx="488.85" cy="626.00" r="1.75" fill="#535353"/>
<circle cx="488.85" cy="640.00" r="1.75" fill="#535353"/>
<line x1="497.10" x2="497.10" y1="639.00" y2="645.40" stroke="#535353" stroke-width="1.35"/>
<rect x="494.05" y="645.40" width="6.10" height="4.90" fill="#fff" stroke="#535353" stroke-width="1.35"/>
<line x1="494.05" x2="500.15" y1="647.20" y2="647.20" stroke="#535353" stroke-width="2.3"/>
<circle cx="497.10" cy="632.60" r="1.75" fill="#535353"/>
<circle cx="497.10" cy="635.60" r="1.75" fill="#535353"/>
<rect x="502.30" y="650.30" width="6.10" height="0.01" fill="#fff" stroke="#535353" stroke-width="1.35"/>
<line x1="502.30" x2="508.40" y1="650.30" y2="650.30" stroke="#535353" stroke-width="2.3"/>
<rect x="510.55" y="650.30" width="6.10" height="0.01" fill="#fff" stroke="#535353" stroke-width="1.35"/>
<line x1="510.55" x2="516.65" y1="650.30" y2="650.30" stroke="#535353" stroke-width="2.3"/>
<rect x="518.80" y="650.30" width="6.10" height="0.01" fill="#fff" stroke="#535353" stroke-width="1.35"/>
<line x1="518.80" x2="524.90" y1="650.30" y2="650.30" stroke="#535353" stroke-width="2.3"/>
<circle cx="521.85" cy="622.80" r="1.75" fill="#535353"/>
<circle cx="521.85" cy="631.00" r="1.75" fill="#535353"/>
<circle cx="521.85" cy="643.80" r="1.75" fill="#535353"/>
<rect x="527.05" y="650.30" width="6.10" height="0.01" fill="#fff" stroke="#535353" stroke-width="1.35"/>
<line x1="527.05" x2="533.15" y1="650.30" y2="650.30" stroke="#535353" stroke-width="2.3"/>
<circle cx="530.10" cy="649.00" r="1.75" fill="#535353"/>
<line x1="538.35" x2="538.35" y1="639.50" y2="646.10" stroke="#535353" stroke-width="1.35"/>
<rect x="535.30" y="646.10" width="6.10" height="4.20" fill="#fff" stroke="#535353" stroke-width="1.35"/>
<line x1="535.30" x2="541.40" y1="647.80" y2="647.80" stroke="#535353" stroke-width="2.3"/>
<circle cx="538.35" cy="638.80" r="1.75" fill="#535353"/>
<rect x="543.55" y="650.30" width="6.10" height="0.01" fill="#fff" stroke="#535353" stroke-width="1.35"/>
<line x1="543.55" x2="549.65" y1="650.30" y2="650.30" stroke="#535353" stroke-width="2.3"/>
<circle cx="546.60" cy="647.00" r="1.75" fill="#535353"/>
<rect x="551.80" y="650.30" width="6.10" height="0.01" fill="#fff" stroke="#535353" stroke-width="1.35"/>
<line x1="551.80" x2="557.90" y1="650.30" y2="650.30" stroke="#535353" stroke-width="2.3"/>
<circle cx="554.85" cy="637.80" r="1.75" fill="#535353"/>
<circle cx="554.85" cy="641.70" r="1.75" fill="#535353"/>
<rect x="560.05" y="650.30" width="6.10" height="0.01" fill="#fff" stroke="#535353" stroke-width="1.35"/>
<line x1="560.05" x2="566.15" y1="650.30" y2="650.30" stroke="#535353" stroke-width="2.3"/>
<line x1="571.35" x2="571.35" y1="616.40" y2="631.60" stroke="#535353" stroke-width="1.35"/>
<line x1="571.35" x2="571.35" y1="645.50" y2="649.40" stroke="#535353" stroke-width="1.35"/>
<rect x="568.30" y="631.60" width="6.10" height="13.90" fill="#fff" stroke="#535353" stroke-width="1.35"/>
<line x1="568.30" x2="574.40" y1="639.00" y2="639.00" stroke="#535353" stroke-width="2.3"/>
<rect x="576.55" y="650.30" width="6.10" height="0.01" fill="#fff" stroke="#535353" stroke-width="1.35"/>
<line x1="576.55" x2="582.65" y1="650.30" y2="650.30" stroke="#535353" stroke-width="2.3"/>
<circle cx="579.60" cy="648.30" r="1.75" fill="#535353"/>
<rect x="584.80" y="650.30" width="6.10" height="0.01" fill="#fff" stroke="#535353" stroke-width="1.35"/>
<line x1="584.80" x2="590.90" y1="650.30" y2="650.30" stroke="#535353" stroke-width="2.3"/>
<rect x="593.05" y="650.30" width="6.10" height="0.01" fill="#fff" stroke="#535353" stroke-width="1.35"/>
<line x1="593.05" x2="599.15" y1="650.30" y2="650.30" stroke="#535353" stroke-width="2.3"/>
<rect x="601.30" y="650.30" width="6.10" height="0.01" fill="#fff" stroke="#535353" stroke-width="1.35"/>
<line x1="601.30" x2="607.40" y1="650.30" y2="650.30" stroke="#535353" stroke-width="2.3"/>
<rect x="360.6" y="392.0" width="248.50" height="270.40" fill="none" stroke="#4d4d4d" stroke-width="1"/>
<rect x="360.6" y="372.4" width="248.50" height="19.6" fill="#dadada" stroke="#5e5e5e" stroke-width="0.85"/>
<text x="469.00" y="388.30" font-size="18" text-anchor="start" fill="#000" font-weight="bold" textLength="49.2" lengthAdjust="spacingAndGlyphs" stroke="#000" stroke-width="0.22">HPV+</text>
<line x1="365.10" x2="365.10" y1="662.4" y2="664.9" stroke="#444" stroke-width="1.2"/>
<text x="365.00" y="671.80" font-size="6.4" text-anchor="middle" fill="#7a7a7a" >1</text>
<line x1="373.35" x2="373.35" y1="662.4" y2="664.9" stroke="#444" stroke-width="1.2"/>
<text x="373.25" y="671.80" font-size="6.4" text-anchor="middle" fill="#7a7a7a" >2</text>
<line x1="381.60" x2="381.60" y1="662.4" y2="664.9" stroke="#444" stroke-width="1.2"/>
<text x="381.50" y="671.80" font-size="6.4" text-anchor="middle" fill="#7a7a7a" >3</text>
<line x1="389.85" x2="389.85" y1="662.4" y2="664.9" stroke="#444" stroke-width="1.2"/>
<text x="389.75" y="671.80" font-size="6.4" text-anchor="middle" fill="#7a7a7a" >4</text>
<line x1="398.10" x2="398.10" y1="662.4" y2="664.9" stroke="#444" stroke-width="1.2"/>
<text x="398.00" y="671.80" font-size="6.4" text-anchor="middle" fill="#7a7a7a" >5</text>
<line x1="406.35" x2="406.35" y1="662.4" y2="664.9" stroke="#444" stroke-width="1.2"/>
<text x="406.25" y="671.80" font-size="6.4" text-anchor="middle" fill="#7a7a7a" >6</text>
<line x1="414.60" x2="414.60" y1="662.4" y2="664.9" stroke="#444" stroke-width="1.2"/>
<text x="414.50" y="671.80" font-size="6.4" text-anchor="middle" fill="#7a7a7a" >7</text>
<line x1="422.85" x2="422.85" y1="662.4" y2="664.9" stroke="#444" stroke-width="1.2"/>
<text x="422.75" y="671.80" font-size="6.4" text-anchor="middle" fill="#7a7a7a" >8</text>
<line x1="431.10" x2="431.10" y1="662.4" y2="664.9" stroke="#444" stroke-width="1.2"/>
<text x="431.00" y="671.80" font-size="6.4" text-anchor="middle" fill="#7a7a7a" >9</text>
<line x1="439.35" x2="439.35" y1="662.4" y2="664.9" stroke="#444" stroke-width="1.2"/>
<text x="438.55" y="671.80" font-size="6.4" text-anchor="middle" fill="#7a7a7a" textLength="6.3" lengthAdjust="spacingAndGlyphs" >10</text>
<line x1="447.60" x2="447.60" y1="662.4" y2="664.9" stroke="#444" stroke-width="1.2"/>
<text x="446.80" y="671.80" font-size="6.4" text-anchor="middle" fill="#7a7a7a" textLength="6.3" lengthAdjust="spacingAndGlyphs" >11</text>
<line x1="455.85" x2="455.85" y1="662.4" y2="664.9" stroke="#444" stroke-width="1.2"/>
<text x="455.05" y="671.80" font-size="6.4" text-anchor="middle" fill="#7a7a7a" textLength="6.3" lengthAdjust="spacingAndGlyphs" >12</text>
<line x1="464.10" x2="464.10" y1="662.4" y2="664.9" stroke="#444" stroke-width="1.2"/>
<text x="463.30" y="671.80" font-size="6.4" text-anchor="middle" fill="#7a7a7a" textLength="6.3" lengthAdjust="spacingAndGlyphs" >13</text>
<line x1="472.35" x2="472.35" y1="662.4" y2="664.9" stroke="#444" stroke-width="1.2"/>
<text x="471.55" y="671.80" font-size="6.4" text-anchor="middle" fill="#7a7a7a" textLength="6.3" lengthAdjust="spacingAndGlyphs" >14</text>
<line x1="480.60" x2="480.60" y1="662.4" y2="664.9" stroke="#444" stroke-width="1.2"/>
<text x="479.80" y="671.80" font-size="6.4" text-anchor="middle" fill="#7a7a7a" textLength="6.3" lengthAdjust="spacingAndGlyphs" >15</text>
<line x1="488.85" x2="488.85" y1="662.4" y2="664.9" stroke="#444" stroke-width="1.2"/>
<text x="488.05" y="671.80" font-size="6.4" text-anchor="middle" fill="#7a7a7a" textLength="6.3" lengthAdjust="spacingAndGlyphs" >16</text>
<line x1="497.10" x2="497.10" y1="662.4" y2="664.9" stroke="#444" stroke-width="1.2"/>
<text x="496.30" y="671.80" font-size="6.4" text-anchor="middle" fill="#7a7a7a" textLength="6.3" lengthAdjust="spacingAndGlyphs" >17</text>
<line x1="505.35" x2="505.35" y1="662.4" y2="664.9" stroke="#444" stroke-width="1.2"/>
<text x="504.55" y="671.80" font-size="6.4" text-anchor="middle" fill="#7a7a7a" textLength="6.3" lengthAdjust="spacingAndGlyphs" >18</text>
<line x1="513.60" x2="513.60" y1="662.4" y2="664.9" stroke="#444" stroke-width="1.2"/>
<text x="512.80" y="671.80" font-size="6.4" text-anchor="middle" fill="#7a7a7a" textLength="6.3" lengthAdjust="spacingAndGlyphs" >19</text>
<line x1="521.85" x2="521.85" y1="662.4" y2="664.9" stroke="#444" stroke-width="1.2"/>
<text x="521.05" y="671.80" font-size="6.4" text-anchor="middle" fill="#7a7a7a" textLength="6.3" lengthAdjust="spacingAndGlyphs" >20</text>
<line x1="530.10" x2="530.10" y1="662.4" y2="664.9" stroke="#444" stroke-width="1.2"/>
<text x="529.30" y="671.80" font-size="6.4" text-anchor="middle" fill="#7a7a7a" textLength="6.3" lengthAdjust="spacingAndGlyphs" >21</text>
<line x1="538.35" x2="538.35" y1="662.4" y2="664.9" stroke="#444" stroke-width="1.2"/>
<text x="537.55" y="671.80" font-size="6.4" text-anchor="middle" fill="#7a7a7a" textLength="6.3" lengthAdjust="spacingAndGlyphs" >22</text>
<line x1="546.60" x2="546.60" y1="662.4" y2="664.9" stroke="#444" stroke-width="1.2"/>
<text x="545.80" y="671.80" font-size="6.4" text-anchor="middle" fill="#7a7a7a" textLength="6.3" lengthAdjust="spacingAndGlyphs" >23</text>
<line x1="554.85" x2="554.85" y1="662.4" y2="664.9" stroke="#444" stroke-width="1.2"/>
<text x="554.05" y="671.80" font-size="6.4" text-anchor="middle" fill="#7a7a7a" textLength="6.3" lengthAdjust="spacingAndGlyphs" >24</text>
<line x1="563.10" x2="563.10" y1="662.4" y2="664.9" stroke="#444" stroke-width="1.2"/>
<text x="562.30" y="671.80" font-size="6.4" text-anchor="middle" fill="#7a7a7a" textLength="6.3" lengthAdjust="spacingAndGlyphs" >25</text>
<line x1="571.35" x2="571.35" y1="662.4" y2="664.9" stroke="#444" stroke-width="1.2"/>
<text x="570.55" y="671.80" font-size="6.4" text-anchor="middle" fill="#7a7a7a" textLength="6.3" lengthAdjust="spacingAndGlyphs" >26</text>
<line x1="579.60" x2="579.60" y1="662.4" y2="664.9" stroke="#444" stroke-width="1.2"/>
<text x="578.80" y="671.80" font-size="6.4" text-anchor="middle" fill="#7a7a7a" textLength="6.3" lengthAdjust="spacingAndGlyphs" >27</text>
<line x1="587.85" x2="587.85" y1="662.4" y2="664.9" stroke="#444" stroke-width="1.2"/>
<text x="587.05" y="671.80" font-size="6.4" text-anchor="middle" fill="#7a7a7a" textLength="6.3" lengthAdjust="spacingAndGlyphs" >28</text>
<line x1="596.10" x2="596.10" y1="662.4" y2="664.9" stroke="#444" stroke-width="1.2"/>
<text x="595.30" y="671.80" font-size="6.4" text-anchor="middle" fill="#7a7a7a" textLength="6.3" lengthAdjust="spacingAndGlyphs" >29</text>
<line x1="604.35" x2="604.35" y1="662.4" y2="664.9" stroke="#444" stroke-width="1.2"/>
<text x="603.55" y="671.80" font-size="6.4" text-anchor="middle" fill="#7a7a7a" textLength="6.3" lengthAdjust="spacingAndGlyphs" >30</text>
<line x1="105.8" x2="108.5" y1="650.30" y2="650.30" stroke="#4d4d4d" stroke-width="1"/>
<text x="100.10" y="656.20" font-size="16.8" text-anchor="end" fill="#3c3c3c" stroke="#3c3c3c" stroke-width="0.22">0.0</text>
<line x1="105.8" x2="108.5" y1="561.30" y2="561.30" stroke="#4d4d4d" stroke-width="1"/>
<text x="100.10" y="567.20" font-size="16.8" text-anchor="end" fill="#3c3c3c" stroke="#3c3c3c" stroke-width="0.22">0.2</text>
<line x1="105.8" x2="108.5" y1="472.30" y2="472.30" stroke="#4d4d4d" stroke-width="1"/>
<text x="100.10" y="478.20" font-size="16.8" text-anchor="end" fill="#3c3c3c" stroke="#3c3c3c" stroke-width="0.22">0.4</text>
<text x="38.40" y="534.80" font-size="18.5" text-anchor="middle" fill="#000" textLength="184.4" lengthAdjust="spacingAndGlyphs" transform="rotate(-90 38.40 534.80)" stroke="#000" stroke-width="0.22">Fractional contribution</text>
<text x="58.20" y="535.40" font-size="18.5" text-anchor="middle" fill="#000" textLength="80.4" lengthAdjust="spacingAndGlyphs" transform="rotate(-90 58.20 535.40)" stroke="#000" stroke-width="0.22">to sample</text>
<text x="195.20" y="697.80" font-size="18" text-anchor="start" fill="#000" textLength="85.3" lengthAdjust="spacingAndGlyphs" stroke="#000" stroke-width="0.22">Signatures</text>
<text x="437.20" y="697.80" font-size="18" text-anchor="start" fill="#000" textLength="85.3" lengthAdjust="spacingAndGlyphs" stroke="#000" stroke-width="0.22">Signatures</text>
<text x="1.30" y="771.80" font-size="18.5" text-anchor="start" fill="#000" textLength="25.6" lengthAdjust="spacingAndGlyphs" stroke="#000" stroke-width="0.22">(C)</text>
<rect x="97.6" y="802.2" width="231.80" height="295.60" fill="#fff"/>
<line x1="120.85" x2="120.85" y1="802.2" y2="1097.8" stroke="#ebebeb" stroke-width="1.1"/>
<line x1="142.80" x2="142.80" y1="802.2" y2="1097.8" stroke="#ebebeb" stroke-width="1.1"/>
<line x1="164.75" x2="164.75" y1="802.2" y2="1097.8" stroke="#ebebeb" stroke-width="1.1"/>
<line x1="186.70" x2="186.70" y1="802.2" y2="1097.8" stroke="#ebebeb" stroke-width="1.1"/>
<line x1="208.65" x2="208.65" y1="802.2" y2="1097.8" stroke="#ebebeb" stroke-width="1.1"/>
<line x1="230.60" x2="230.60" y1="802.2" y2="1097.8" stroke="#ebebeb" stroke-width="1.1"/>
<line x1="252.55" x2="252.55" y1="802.2" y2="1097.8" stroke="#ebebeb" stroke-width="1.1"/>
<line x1="274.50" x2="274.50" y1="802.2" y2="1097.8" stroke="#ebebeb" stroke-width="1.1"/>
<line x1="296.45" x2="296.45" y1="802.2" y2="1097.8" stroke="#ebebeb" stroke-width="1.1"/>
<line x1="318.40" x2="318.40" y1="802.2" y2="1097.8" stroke="#ebebeb" stroke-width="1.1"/>
<line x1="97.6" x2="329.4" y1="1084.70" y2="1084.70" stroke="#ebebeb" stroke-width="1.1"/>
<line x1="97.6" x2="329.4" y1="1051.15" y2="1051.15" stroke="#ebebeb" stroke-width="1.1"/>
<line x1="97.6" x2="329.4" y1="1017.60" y2="1017.60" stroke="#ebebeb" stroke-width="1.1"/>
<line x1="97.6" x2="329.4" y1="984.05" y2="984.05" stroke="#ebebeb" stroke-width="1.1"/>
<line x1="97.6" x2="329.4" y1="950.50" y2="950.50" stroke="#ebebeb" stroke-width="1.1"/>
<line x1="97.6" x2="329.4" y1="916.95" y2="916.95" stroke="#ebebeb" stroke-width="1.1"/>
<line x1="97.6" x2="329.4" y1="883.40" y2="883.40" stroke="#ebebeb" stroke-width="1.1"/>
<line x1="97.6" x2="329.4" y1="849.85" y2="849.85" stroke="#ebebeb" stroke-width="1.1"/>
<line x1="97.6" x2="329.4" y1="816.30" y2="816.30" stroke="#ebebeb" stroke-width="1.1"/>
<circle cx="107.60" cy="1084.80" r="2.35" fill="#E8805C"/>
<circle cx="125.30" cy="1084.80" r="2.35" fill="#E8805C"/>
<circle cx="142.75" cy="1042.30" r="2.35" fill="#E8805C"/>
<circle cx="151.80" cy="1068.60" r="2.35" fill="#177E93"/>
<circle cx="160.40" cy="1021.40" r="2.35" fill="#177E93"/>
<circle cx="169.20" cy="1023.00" r="2.35" fill="#E8805C"/>
<circle cx="169.20" cy="1024.80" r="2.35" fill="#E8805C"/>
<circle cx="177.90" cy="1032.90" r="2.35" fill="#E8805C"/>
<circle cx="186.90" cy="1009.90" r="2.35" fill="#E8805C"/>
<circle cx="186.90" cy="1019.60" r="2.35" fill="#E8805C"/>
<circle cx="195.50" cy="982.50" r="2.35" fill="#177E93"/>
<circle cx="204.30" cy="1023.40" r="2.35" fill="#E8805C"/>
<circle cx="204.30" cy="1030.50" r="2.35" fill="#177E93"/>
<circle cx="204.30" cy="1037.20" r="2.35" fill="#E8805C"/>
<circle cx="204.30" cy="1064.20" r="2.35" fill="#E8805C"/>
<circle cx="213.10" cy="990.70" r="2.35" fill="#E8805C"/>
<circle cx="213.10" cy="1019.50" r="2.35" fill="#E8805C"/>
<circle cx="222.00" cy="989.00" r="2.35" fill="#177E93"/>
<circle cx="222.00" cy="1003.00" r="2.35" fill="#177E93"/>
<circle cx="222.00" cy="1050.20" r="2.35" fill="#E8805C"/>
<circle cx="239.40" cy="969.90" r="2.35" fill="#E8805C"/>
<circle cx="248.30" cy="913.20" r="2.35" fill="#E8805C"/>
<circle cx="257.10" cy="942.50" r="2.35" fill="#E8805C"/>
<circle cx="257.10" cy="990.50" r="2.35" fill="#177E93"/>
<circle cx="257.10" cy="995.70" r="2.35" fill="#177E93"/>
<circle cx="265.90" cy="956.30" r="2.35" fill="#177E93"/>
<circle cx="274.70" cy="918.00" r="2.35" fill="#177E93"/>
<circle cx="283.30" cy="1051.40" r="2.35" fill="#177E93"/>
<circle cx="292.10" cy="948.20" r="2.35" fill="#177E93"/>
<circle cx="309.70" cy="967.70" r="2.35" fill="#177E93"/>
<circle cx="318.50" cy="1039.90" r="2.35" fill="#E8805C"/>
<line x1="107.6" y1="1066.2" x2="318.5" y2="956.0" stroke="#3B4898" stroke-width="3.3"/>
<rect x="97.6" y="802.2" width="231.80" height="295.60" fill="none" stroke="#4d4d4d" stroke-width="1"/>
<rect x="102.6" y="804.3" width="52.9" height="33.4" fill="#fff" stroke="#333" stroke-width="0.9"/>
<circle cx="111.30" cy="813.20" r="2.6" fill="#E8805C"/>
<circle cx="111.30" cy="828.90" r="2.6" fill="#177E93"/>
<text x="119.20" y="816.30" font-size="10.9" text-anchor="start" fill="#111" textLength="29.8" lengthAdjust="spacingAndGlyphs" stroke="#111" stroke-width="0.18">HPV−</text>
<text x="119.20" y="831.80" font-size="10.9" text-anchor="start" fill="#111" textLength="29.8" lengthAdjust="spacingAndGlyphs" stroke="#111" stroke-width="0.18">HPV+</text>
<text x="107.30" y="859.80" font-size="12.0" text-anchor="start" fill="#111" textLength="104.0" lengthAdjust="spacingAndGlyphs" stroke="#111" stroke-width="0.18">r = 0.62, p=0.0002</text>
<line x1="95.0" x2="97.6" y1="1084.70" y2="1084.70" stroke="#4d4d4d" stroke-width="1"/>
<text x="92.20" y="1090.10" font-size="15.2" text-anchor="end" fill="#4d4d4d" stroke="#4d4d4d" stroke-width="0.22">0.00</text>
<line x1="95.0" x2="97.6" y1="1017.60" y2="1017.60" stroke="#4d4d4d" stroke-width="1"/>
<text x="92.20" y="1023.00" font-size="15.2" text-anchor="end" fill="#4d4d4d" stroke="#4d4d4d" stroke-width="0.22">0.02</text>
<line x1="95.0" x2="97.6" y1="950.50" y2="950.50" stroke="#4d4d4d" stroke-width="1"/>
<text x="92.20" y="955.90" font-size="15.2" text-anchor="end" fill="#4d4d4d" stroke="#4d4d4d" stroke-width="0.22">0.04</text>
<line x1="95.0" x2="97.6" y1="883.40" y2="883.40" stroke="#4d4d4d" stroke-width="1"/>
<text x="92.20" y="888.80" font-size="15.2" text-anchor="end" fill="#4d4d4d" stroke="#4d4d4d" stroke-width="0.22">0.06</text>
<line x1="95.0" x2="97.6" y1="816.30" y2="816.30" stroke="#4d4d4d" stroke-width="1"/>
<text x="92.20" y="821.70" font-size="15.2" text-anchor="end" fill="#4d4d4d" stroke="#4d4d4d" stroke-width="0.22">0.08</text>
<line x1="98.90" x2="98.90" y1="1097.8" y2="1100.4" stroke="#4d4d4d" stroke-width="1"/>
<text x="98.30" y="1114.50" font-size="15.2" text-anchor="middle" fill="#4d4d4d" stroke="#4d4d4d" stroke-width="0.22">5</text>
<line x1="142.80" x2="142.80" y1="1097.8" y2="1100.4" stroke="#4d4d4d" stroke-width="1"/>
<text x="143.40" y="1114.50" font-size="15.2" text-anchor="middle" fill="#4d4d4d" stroke="#4d4d4d" stroke-width="0.22">10</text>
<line x1="186.70" x2="186.70" y1="1097.8" y2="1100.4" stroke="#4d4d4d" stroke-width="1"/>
<text x="187.30" y="1114.50" font-size="15.2" text-anchor="middle" fill="#4d4d4d" stroke="#4d4d4d" stroke-width="0.22">15</text>
<line x1="230.60" x2="230.60" y1="1097.8" y2="1100.4" stroke="#4d4d4d" stroke-width="1"/>
<text x="231.20" y="1114.50" font-size="15.2" text-anchor="middle" fill="#4d4d4d" stroke="#4d4d4d" stroke-width="0.22">20</text>
<line x1="274.50" x2="274.50" y1="1097.8" y2="1100.4" stroke="#4d4d4d" stroke-width="1"/>
<text x="275.10" y="1114.50" font-size="15.2" text-anchor="middle" fill="#4d4d4d" stroke="#4d4d4d" stroke-width="0.22">25</text>
<line x1="318.40" x2="318.40" y1="1097.8" y2="1100.4" stroke="#4d4d4d" stroke-width="1"/>
<text x="319.00" y="1114.50" font-size="15.2" text-anchor="middle" fill="#4d4d4d" stroke="#4d4d4d" stroke-width="0.22">30</text>
<text x="33.00" y="950.30" font-size="17.6" text-anchor="middle" fill="#000" textLength="184.1" lengthAdjust="spacingAndGlyphs" transform="rotate(-90 33.00 950.30)" stroke="#000" stroke-width="0.22">Contribution of COSMIC</text>
<text x="53.20" y="950.00" font-size="17.6" text-anchor="middle" fill="#000" textLength="169.6" lengthAdjust="spacingAndGlyphs" transform="rotate(-90 53.20 950.00)" stroke="#000" stroke-width="0.22">APOBEC signature 13</text>
<text x="99.00" y="1142.60" font-size="17.3" text-anchor="start" fill="#000" textLength="230.8" lengthAdjust="spacingAndGlyphs" stroke="#000" stroke-width="0.22">Number of APOBEC muations</text>
<text x="374.80" y="771.90" font-size="18.5" text-anchor="start" fill="#000" textLength="26.0" lengthAdjust="spacingAndGlyphs" stroke="#000" stroke-width="0.22">(D)</text>
<rect x="474.8" y="801.5" width="242.90" height="298.40" fill="#fff"/>
<line x1="485.51" x2="485.51" y1="801.5" y2="1099.9" stroke="#ebebeb" stroke-width="1.1"/>
<line x1="510.60" x2="510.60" y1="801.5" y2="1099.9" stroke="#ebebeb" stroke-width="1.1"/>
<line x1="535.69" x2="535.69" y1="801.5" y2="1099.9" stroke="#ebebeb" stroke-width="1.1"/>
<line x1="560.77" x2="560.77" y1="801.5" y2="1099.9" stroke="#ebebeb" stroke-width="1.1"/>
<line x1="585.86" x2="585.86" y1="801.5" y2="1099.9" stroke="#ebebeb" stroke-width="1.1"/>
<line x1="610.95" x2="610.95" y1="801.5" y2="1099.9" stroke="#ebebeb" stroke-width="1.1"/>
<line x1="636.04" x2="636.04" y1="801.5" y2="1099.9" stroke="#ebebeb" stroke-width="1.1"/>
<line x1="661.12" x2="661.12" y1="801.5" y2="1099.9" stroke="#ebebeb" stroke-width="1.1"/>
<line x1="686.21" x2="686.21" y1="801.5" y2="1099.9" stroke="#ebebeb" stroke-width="1.1"/>
<line x1="711.30" x2="711.30" y1="801.5" y2="1099.9" stroke="#ebebeb" stroke-width="1.1"/>
<line x1="474.8" x2="717.7" y1="1060.70" y2="1060.70" stroke="#ebebeb" stroke-width="1.1"/>
<line x1="474.8" x2="717.7" y1="1019.05" y2="1019.05" stroke="#ebebeb" stroke-width="1.1"/>
<line x1="474.8" x2="717.7" y1="977.40" y2="977.40" stroke="#ebebeb" stroke-width="1.1"/>
<line x1="474.8" x2="717.7" y1="935.75" y2="935.75" stroke="#ebebeb" stroke-width="1.1"/>
<line x1="474.8" x2="717.7" y1="894.10" y2="894.10" stroke="#ebebeb" stroke-width="1.1"/>
<line x1="474.8" x2="717.7" y1="852.45" y2="852.45" stroke="#ebebeb" stroke-width="1.1"/>
<line x1="474.8" x2="717.7" y1="810.80" y2="810.80" stroke="#ebebeb" stroke-width="1.1"/>
<circle cx="485.60" cy="1069.00" r="2.35" fill="#E8805C"/>
<circle cx="492.00" cy="1031.90" r="2.35" fill="#E8805C"/>
<circle cx="517.50" cy="1018.60" r="2.35" fill="#E8805C"/>
<circle cx="543.50" cy="1087.00" r="2.35" fill="#E8805C"/>
<circle cx="548.80" cy="1014.70" r="2.35" fill="#E8805C"/>
<circle cx="548.00" cy="1018.40" r="2.35" fill="#E8805C"/>
<circle cx="555.90" cy="979.00" r="2.35" fill="#E8805C"/>
<circle cx="562.90" cy="1004.00" r="2.35" fill="#E8805C"/>
<circle cx="565.60" cy="1018.20" r="2.35" fill="#E8805C"/>
<circle cx="560.00" cy="1027.10" r="2.35" fill="#E8805C"/>
<circle cx="569.50" cy="1027.10" r="2.35" fill="#E8805C"/>
<circle cx="562.90" cy="1036.80" r="2.35" fill="#E8805C"/>
<circle cx="583.30" cy="1011.00" r="2.35" fill="#E8805C"/>
<circle cx="605.70" cy="999.70" r="2.35" fill="#E8805C"/>
<circle cx="608.60" cy="1014.50" r="2.35" fill="#E8805C"/>
<circle cx="631.10" cy="1036.80" r="2.35" fill="#E8805C"/>
<circle cx="650.30" cy="997.60" r="2.35" fill="#E8805C"/>
<circle cx="649.90" cy="1054.40" r="2.35" fill="#E8805C"/>
<circle cx="604.30" cy="997.70" r="2.35" fill="#177E93"/>
<circle cx="604.90" cy="1022.70" r="2.35" fill="#177E93"/>
<circle cx="608.00" cy="1042.20" r="2.35" fill="#177E93"/>
<circle cx="629.10" cy="988.90" r="2.35" fill="#177E93"/>
<circle cx="639.00" cy="997.60" r="2.35" fill="#177E93"/>
<circle cx="645.40" cy="981.10" r="2.35" fill="#177E93"/>
<circle cx="639.80" cy="1011.00" r="2.35" fill="#177E93"/>
<circle cx="645.00" cy="1011.00" r="2.35" fill="#177E93"/>
<circle cx="641.00" cy="1018.50" r="2.35" fill="#177E93"/>
<circle cx="643.90" cy="1048.00" r="2.35" fill="#177E93"/>
<circle cx="668.50" cy="986.50" r="2.35" fill="#177E93"/>
<circle cx="667.70" cy="994.90" r="2.35" fill="#177E93"/>
<circle cx="703.40" cy="991.80" r="2.35" fill="#177E93"/>
<circle cx="654.90" cy="814.60" r="2.35" fill="#177E93"/>
<circle cx="646.80" cy="894.90" r="2.35" fill="#177E93"/>
<circle cx="668.30" cy="923.00" r="2.35" fill="#177E93"/>
<circle cx="675.30" cy="929.80" r="2.35" fill="#177E93"/>
<circle cx="707.30" cy="927.60" r="2.35" fill="#177E93"/>
<line x1="485.9" y1="1058.5" x2="707.1" y2="955.6" stroke="#3B4898" stroke-width="3.3"/>
<rect x="474.8" y="801.5" width="242.90" height="298.40" fill="none" stroke="#4d4d4d" stroke-width="1"/>
<rect x="481.3" y="804.4" width="52.9" height="33.4" fill="#fff" stroke="#333" stroke-width="0.9"/>
<circle cx="490.00" cy="813.30" r="2.6" fill="#E8805C"/>
<circle cx="490.00" cy="829.00" r="2.6" fill="#177E93"/>
<text x="497.90" y="816.40" font-size="10.9" text-anchor="start" fill="#111" textLength="29.8" lengthAdjust="spacingAndGlyphs" stroke="#111" stroke-width="0.18">HPV−</text>
<text x="497.90" y="831.90" font-size="10.9" text-anchor="start" fill="#111" textLength="29.8" lengthAdjust="spacingAndGlyphs" stroke="#111" stroke-width="0.18">HPV+</text>
<text x="479.20" y="859.90" font-size="13.0" text-anchor="start" fill="#111" textLength="164.8" lengthAdjust="spacingAndGlyphs" stroke="#111" stroke-width="0.18">Overall: rho = 0.6, p = 0.0001</text>
<text x="479.20" y="877.00" font-size="13.0" text-anchor="start" fill="#111" textLength="157.5" lengthAdjust="spacingAndGlyphs" stroke="#111" stroke-width="0.18">HPV+: rho = 0.65, p = 0.004</text>
<text x="479.20" y="893.70" font-size="13.0" text-anchor="start" fill="#111" textLength="30.4" lengthAdjust="spacingAndGlyphs" stroke="#111" stroke-width="0.18">HPV-:</text>
<text x="519.60" y="893.70" font-size="13.0" text-anchor="start" fill="#111" textLength="105.7" lengthAdjust="spacingAndGlyphs" stroke="#111" stroke-width="0.18">rho = 0.28; p=0.25</text>
<line x1="472.2" x2="474.8" y1="1060.70" y2="1060.70" stroke="#4d4d4d" stroke-width="1"/>
<text x="468.90" y="1066.10" font-size="15.4" text-anchor="end" fill="#4d4d4d" stroke="#4d4d4d" stroke-width="0.22">1.0</text>
<line x1="472.2" x2="474.8" y1="977.40" y2="977.40" stroke="#4d4d4d" stroke-width="1"/>
<text x="468.90" y="982.80" font-size="15.4" text-anchor="end" fill="#4d4d4d" stroke="#4d4d4d" stroke-width="0.22">1.5</text>
<line x1="472.2" x2="474.8" y1="894.10" y2="894.10" stroke="#4d4d4d" stroke-width="1"/>
<text x="468.90" y="899.50" font-size="15.4" text-anchor="end" fill="#4d4d4d" stroke="#4d4d4d" stroke-width="0.22">2.0</text>
<line x1="472.2" x2="474.8" y1="810.80" y2="810.80" stroke="#4d4d4d" stroke-width="1"/>
<text x="468.90" y="816.20" font-size="15.4" text-anchor="end" fill="#4d4d4d" stroke="#4d4d4d" stroke-width="0.22">2.5</text>
<line x1="510.60" x2="510.60" y1="1099.9" y2="1102.5" stroke="#4d4d4d" stroke-width="1"/>
<text x="505.10" y="1118.40" font-size="15.2" text-anchor="middle" fill="#4d4d4d" stroke="#4d4d4d" stroke-width="0.22">1.50</text>
<line x1="560.77" x2="560.77" y1="1099.9" y2="1102.5" stroke="#4d4d4d" stroke-width="1"/>
<text x="555.40" y="1118.40" font-size="15.2" text-anchor="middle" fill="#4d4d4d" stroke="#4d4d4d" stroke-width="0.22">1.75</text>
<line x1="610.95" x2="610.95" y1="1099.9" y2="1102.5" stroke="#4d4d4d" stroke-width="1"/>
<text x="604.60" y="1118.40" font-size="15.2" text-anchor="middle" fill="#4d4d4d" stroke="#4d4d4d" stroke-width="0.22">2.00</text>
<line x1="661.12" x2="661.12" y1="1099.9" y2="1102.5" stroke="#4d4d4d" stroke-width="1"/>
<text x="655.20" y="1118.40" font-size="15.2" text-anchor="middle" fill="#4d4d4d" stroke="#4d4d4d" stroke-width="0.22">2.25</text>
<line x1="711.30" x2="711.30" y1="1099.9" y2="1102.5" stroke="#4d4d4d" stroke-width="1"/>
<text x="704.60" y="1118.40" font-size="15.2" text-anchor="middle" fill="#4d4d4d" stroke="#4d4d4d" stroke-width="0.22">2.50</text>
<text x="411.60" y="947.70" font-size="17.6" text-anchor="middle" fill="#000" textLength="201.9" lengthAdjust="spacingAndGlyphs" transform="rotate(-90 411.60 947.70)" stroke="#000" stroke-width="0.22">log10(Number of APOBEC</text>
<text x="432.00" y="947.30" font-size="17.6" text-anchor="middle" fill="#000" textLength="97.8" lengthAdjust="spacingAndGlyphs" transform="rotate(-90 432.00 947.30)" stroke="#000" stroke-width="0.22">muations +1)</text>
<text x="533.60" y="1143.10" font-size="17.2" text-anchor="start" fill="#000" textLength="106.4" lengthAdjust="spacingAndGlyphs" stroke="#000" stroke-width="0.22">log10(cpm+1)</text>
</svg>
</body></html>
